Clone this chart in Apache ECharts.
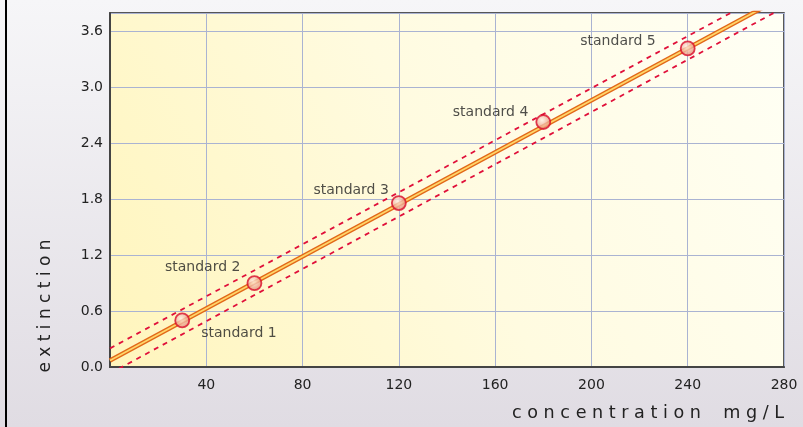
<!DOCTYPE html>
<html>
<head>
<meta charset="utf-8">
<script src="https://cdn.jsdelivr.net/npm/echarts@6/dist/echarts.min.js"></script>
<style>
html,body{margin:0;padding:0;}
#main{width:803px;height:427px;}
</style>
</head>
<body>
<div id="main"></div>
<script>
// ---- data ----
var standardNames = ['standard 1', 'standard 2', 'standard 3', 'standard 4', 'standard 5'];
var concentration = [30, 60, 120, 180, 240];
var extinction = [0.50, 0.90, 1.76, 2.63, 3.42];
var fitX = [0, 280];
var fitY = [0.07, 3.98];
var upperY = [0.20, 4.11];
var lowerY = [-0.07, 3.86];
var xTicks = ['40', '80', '120', '160', '200', '240', '280'];
var yTicks = ['0.0', '0.6', '1.2', '1.8', '2.4', '3.0', '3.6'];
var xName = 'c o n c e n t r a t i o n    m g / L';
var yName = 'e x t i n c t i o n';

// ---- label placement (styling) ----
var labelStyles = [
  {align: 'left', offset: [19, 13]},
  {align: 'right', offset: [-14, -16]},
  {align: 'right', offset: [-10, -13]},
  {align: 'right', offset: [-15, -10]},
  {align: 'right', offset: [-32, -7]}
];

var FONT = 'DejaVu Sans';
var chart = echarts.init(document.getElementById('main'));

function pairs(xs, ys) { return xs.map(function (x, i) { return [x, ys[i]]; }); }

var pointData = concentration.map(function (x, i) {
  return {
    value: [x, extinction[i]],
    name: standardNames[i],
    label: {
      show: true, position: 'inside', formatter: standardNames[i],
      align: labelStyles[i].align, verticalAlign: 'middle', offset: labelStyles[i].offset,
      color: '#222', fontSize: 14, fontFamily: FONT, textBorderWidth: 0
    }
  };
});

var option = {
  animation: false,
  backgroundColor: {
    type: 'linear', x: 0, y: 0, x2: 0, y2: 1,
    colorStops: [{offset: 0, color: '#f6f6f8'}, {offset: 1, color: '#e0dce3'}]
  },
  graphic: [
    {type: 'line', shape: {x1: 6, y1: 0, x2: 6, y2: 427}, style: {stroke: '#000', lineWidth: 2}, z: 100},
    {type: 'text', left: 512, top: 404, style: {text: xName, fontSize: 17.6, fontFamily: FONT, fill: '#222'}},
    {type: 'text', x: 46, y: 306, rotation: Math.PI / 2,
      style: {text: yName, fontSize: 17, fontFamily: FONT, fill: '#222', align: 'center', verticalAlign: 'middle'}}
  ],
  grid: {
    left: 110, top: 13, right: 19, bottom: 60,
    show: true, borderColor: '#222', borderWidth: 1.5,
    backgroundColor: {
      type: 'linear', x: 0, y: 1, x2: 1, y2: 0,
      colorStops: [{offset: 0, color: '#fff5bc'}, {offset: 0.5, color: '#fffbe0'}, {offset: 1, color: '#fffff5'}]
    }
  },
  xAxis: {
    type: 'value', min: 0, max: 280, interval: 40,
    axisLine: {show: true, onZero: false, lineStyle: {color: '#444', width: 2}},
    axisTick: {show: false},
    splitLine: {show: true, lineStyle: {color: '#aab3d2', width: 1}},
    axisLabel: {
      margin: 11, fontSize: 14, fontFamily: FONT, color: '#222',
      formatter: function (v) { var s = String(v); return xTicks.indexOf(s) >= 0 ? s : ''; }
    }
  },
  yAxis: {
    type: 'value', min: 0, max: 3.8, interval: 0.6,
    axisLine: {show: true, onZero: false, lineStyle: {color: '#444', width: 2}},
    axisTick: {show: false},
    splitLine: {show: true, lineStyle: {color: '#aab3d2', width: 1}},
    axisLabel: {
      margin: 7, fontSize: 14, fontFamily: FONT, color: '#222', showMaxLabel: false,
      formatter: function (v) { var s = v.toFixed(1); return yTicks.indexOf(s) >= 0 ? s : ''; }
    }
  },
  series: [
    {type: 'line', data: pairs(fitX, upperY), symbol: 'none', clip: true, silent: true,
      lineStyle: {color: '#e0103a', width: 1.8, type: [5, 5]}, z: 2},
    {type: 'line', data: pairs(fitX, lowerY), symbol: 'none', clip: true, silent: true,
      lineStyle: {color: '#e0103a', width: 1.8, type: [5, 5]}, z: 2},
    {type: 'line', data: pairs(fitX, fitY), symbol: 'none', clip: true, silent: true,
      lineStyle: {color: '#e26818', width: 4.5}, z: 3},
    {type: 'line', data: pairs(fitX, fitY), symbol: 'none', clip: true, silent: true,
      lineStyle: {color: '#ffd66a', width: 1.8}, z: 4},
    {type: 'scatter', data: pointData, symbol: 'circle', symbolSize: 14, z: 5,
      itemStyle: {
        color: {type: 'radial', x: 0.42, y: 0.38, r: 0.62,
          colorStops: [{offset: 0, color: '#fff0e6'}, {offset: 1, color: '#e48468'}]},
        borderColor: '#d80c2c', borderWidth: 1.8
      }}
  ]
};
chart.setOption(option);
</script>
</body>
</html>
